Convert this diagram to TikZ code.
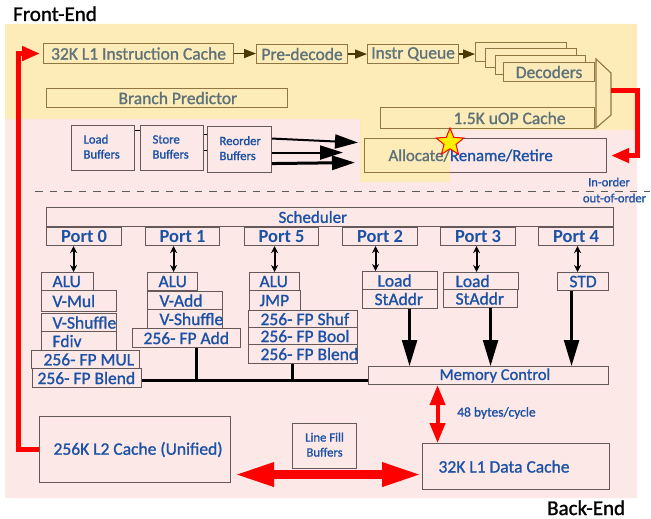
\documentclass[tikz,border=0pt]{standalone}
\usepackage{fontspec}
\setmainfont{Carlito}
\newfontfamily\hv{Carlito}[FakeBold=1.2]
\usetikzlibrary{arrows.meta,shapes.geometric,calc}
\definecolor{txtblue}{RGB}{28,82,165}
\definecolor{bordc}{RGB}{100,88,88}
\definecolor{pinkbg}{RGB}{253,232,232}
\definecolor{ovl}{RGB}{248,188,20}
\definecolor{redc}{RGB}{255,0,0}
\definecolor{dashc}{RGB}{90,90,90}
\definecolor{stary}{RGB}{255,240,0}
\newcommand\fsz[1]{\fontsize{#1}{#1}\selectfont}
\newcommand\ubx[7]{%
  \pgfmathsetmacro\ubxW{#5-#3}%
  \pgfmathsetmacro\ubxH{#6-#4}%
  \node[#1,minimum width=\ubxW pt,minimum height=\ubxH pt,anchor=north west] (#2) at (#3,#4) {#7};}
\newcommand\lft[2]{\makebox[\ubxW pt][l]{\hspace{#1pt}#2}}
\begin{document}
\begin{tikzpicture}[x=1pt,y=-1pt,
  box/.style={draw=bordc,line width=1.1pt,inner sep=0pt,text=txtblue,font={\hv\fsz{17.5}}},
  portbox/.style={box,font={\fsz{18.5}\bfseries}},
  smallbox/.style={box,font={\hv\fontsize{12.7}{15}\selectfont}},
  lbl/.style={inner sep=0pt,text=txtblue},
  fearr/.style={line width=1.5pt,draw=black,-{Triangle[length=12pt,width=9pt]}},
  dbl/.style={line width=2pt,draw=black,{Stealth[length=7pt,width=7pt]}-{Stealth[length=7pt,width=7pt]}},
  memarr/.style={line width=2.5pt,draw=black,-{Triangle[length=26pt,width=15pt]}},
  roarr/.style={line width=2pt,draw=black,-{Triangle[length=23pt,width=14pt]}},
  bus/.style={line width=2.5pt,draw=black},
  tick/.style={line width=1pt,draw=black},
  redarr/.style={line width=5pt,draw=redc,-{Triangle[length=18pt,width=14pt]}},
  medred/.style={line width=4pt,draw=redc,{Triangle[length=20pt,width=15pt]}-{Triangle[length=20pt,width=15pt]}},
  bigred/.style={line width=9pt,draw=redc,{Triangle[length=40pt,width=22pt]}-{Triangle[length=40pt,width=22pt]}}
]
\useasboundingbox (0,0) rectangle (651,519);
% backgrounds
\fill[pinkbg] (5,119) -- (360,119) -- (360,182) -- (450,182) -- (450,130) -- (637,130) -- (637,498) -- (5,498) -- cycle;

% titles
\node[anchor=base west,inner sep=0pt,font={\hv\fsz{21}},text=black] (fe) at (13,21) {Front-End};
\node[anchor=base west,inner sep=0pt,font={\hv\fsz{21}},text=black] (be) at (547,515) {Back-End};

% front end
\ubx{box}{l1i}{43}{43}{233}{63}{32K L1 Instruction Cache}
\ubx{box}{pdec}{256}{44}{347}{63}{Pre-decode}
\ubx{box}{iq}{367}{44}{458}{63}{Instr Queue}
\ubx{box,fill=white}{dec1}{475}{42}{566}{61}{}
\ubx{box,fill=white}{dec2}{485}{48}{576}{67}{}
\ubx{box,fill=white}{dec3}{495}{55}{585}{74}{}
\ubx{box,fill=white}{dec4}{503}{62}{594}{81}{Decoders}
\ubx{box}{bp}{46}{88}{287}{107}{\lft{72}{Branch Predictor}}
\ubx{box}{uop}{380}{107}{594}{128}{\lft{73}{1.5K uOP Cache}}
\draw[draw=bordc,line width=1.1pt,fill=white] (596,59) -- (611,73) -- (611,115) -- (596,128) -- cycle;
\coordinate (muxout) at (611,91);
\draw[fearr] (l1i.east) -- (l1i.east -| pdec.west);
\draw[fearr] (pdec.east) -- (pdec.east -| iq.west);
\draw[fearr] (iq.east) -- (iq.east -| dec1.west);

% buffers and allocate
\ubx{smallbox}{load}{71}{125}{134}{170}{\lft{12}{\begin{tabular}{@{}l@{}}Load\\Buffers\end{tabular}}}
\ubx{smallbox}{store}{140}{125}{203}{170}{\lft{12}{\begin{tabular}{@{}l@{}}Store\\Buffers\end{tabular}}}
\ubx{smallbox}{reorder}{207}{126}{271}{172}{\lft{12}{\begin{tabular}{@{}l@{}}Reorder\\Buffers\end{tabular}}}
\ubx{box,font={\hv\fsz{16.8}}}{alloc}{364}{138}{606}{172}{\lft{24}{Allocate/Rename/Retire}}
\draw[tick] ($(load.east)+(0,-17.5)$) -- ($(store.west)+(0,-17.5)$);
\draw[tick] ($(store.east)+(0,-13.5)$) -- ($(reorder.west)+(0,-15)$);
\draw[tick] ($(store.east)+(0,2.5)$) -- ($(reorder.west)+(0,1)$);
\draw[roarr] ($(reorder.east)+(0,-11)$) -- ($(alloc.west)+(-6,-13)$);
\draw[roarr] ($(reorder.east)+(0,3)$) -- ($(alloc.west)+(-21,-3)$);
\draw[roarr,line width=3pt] ($(reorder.east)+(0,14)$) -- ($(alloc.west)+(-9,7)$);

% in-order separator
\draw[draw=dashc,line width=1pt,dash pattern=on 7.5pt off 7pt] (35,191) -- (650,191);
\node[lbl,font={\hv\fsz{12.6}}] (inord) at (609,182) {In-order};
\node[lbl,font={\hv\fsz{12.6}}] (outord) at (614.5,198) {out-of-order};

% scheduler and ports
\ubx{box,font={\hv\fsz{17}}}{sched}{46}{207}{613}{226}{\lft{232}{Scheduler}}
\ubx{portbox}{p0}{46}{227}{121}{245}{Port 0}
\ubx{portbox}{p1}{145}{227}{219}{245}{Port 1}
\ubx{portbox}{p5}{244}{227}{318}{245}{Port 5}
\ubx{portbox}{p2}{342}{227}{417}{245}{Port 2}
\ubx{portbox}{p3}{440}{227}{515}{245}{Port 3}
\ubx{portbox}{p4}{538}{227}{613}{245}{Port 4}

% port 0
\ubx{box}{p0alu}{41}{272}{93}{290}{\lft{11}{ALU}}
\ubx{box}{p0vmul}{41}{290}{116}{311}{\lft{11}{V-Mul}}
\ubx{box}{p0vsh}{41}{313}{116}{331}{\lft{11}{V-Shuffle}}
\ubx{box}{p0fdiv}{41}{331}{116}{350}{\lft{11}{Fdiv}}
\ubx{box}{p0fpmul}{31}{350}{139}{368}{\lft{12}{256- FP MUL}}
\ubx{box}{p0blend}{32}{368}{141}{387}{\lft{5}{256- FP Blend}}
% port 1
\ubx{box}{p1alu}{147}{272}{197}{290}{\lft{11}{ALU}}
\ubx{box}{p1vadd}{147}{291}{222}{309}{\lft{12}{V-Add}}
\ubx{box}{p1vsh}{147}{309}{222}{328}{\lft{12}{V-Shuffle}}
\ubx{box}{p1fpadd}{132}{328}{240}{347}{\lft{11}{256- FP Add}}
% port 5
\ubx{box}{p5alu}{249}{272}{299}{290}{\lft{10}{ALU}}
\ubx{box}{p5jmp}{249}{290}{300}{310}{\lft{10}{JMP}}
\ubx{box}{p5shuf}{248}{310}{357}{327}{\lft{12}{256- FP Shuf}}
\ubx{box}{p5bool}{248}{327}{357}{344}{\lft{12}{256- FP Bool}}
\ubx{box}{p5blend}{248}{344}{357}{363}{\lft{12}{256- FP Blend}}
% port 2,3,4
\ubx{box}{p2load}{362}{271}{437}{289}{\lft{15}{Load}}
\ubx{box}{p2st}{362}{289}{437}{308}{\lft{12}{StAddr}}
\ubx{box}{p3load}{443}{272}{518}{289}{\lft{12}{Load}}
\ubx{box}{p3st}{443}{289}{517}{307}{\lft{12}{StAddr}}
\ubx{box}{p4std}{557}{272}{608}{290}{STD}

% port arrows
\draw[dbl] ($(p0.south)+(-10.5,0)$) -- ($(p0.south |- p0alu.north)+(-10.5,0)$);
\draw[dbl] ($(p1.south)+(-9,0)$) -- ($(p1.south |- p1alu.north)+(-9,0)$);
\draw[dbl] ($(p5.south)+(-7,0)$) -- ($(p5.south |- p5alu.north)+(-7,0)$);
\draw[dbl] ($(p2.south)+(-4.5,0)$) -- ($(p2.south |- p2load.north)+(-4.5,0)$);
\draw[dbl] ($(p3.south)+(-1.5,0)$) -- ($(p3.south |- p3load.north)+(-1.5,0)$);
\draw[dbl] ($(p4.south)+(1.5,0)$) -- ($(p4.south |- p4std.north)+(1.5,0)$);

% memory control
\ubx{box,font={\hv\fsz{16.5}}}{mem}{368}{366}{608}{384}{\lft{71}{Memory Control}}
\draw[memarr] ($(p2st.south)+(9.5,0)$) -- ($(p2st.south |- mem.north)+(9.5,0)$);
\draw[memarr] ($(p3st.south)+(10,0)$) -- ($(p3st.south |- mem.north)+(10,0)$);
\draw[memarr] ($(p4std.south)+(-11.5,0)$) -- ($(p4std.south |- mem.north)+(-11.5,0)$);
\coordinate (busL) at ($(p0blend.east)+(0,2.5)$);
\draw[bus] (busL) -- (busL -| mem.west);
\draw[bus] ($(p1fpadd.south)+(10,0)$) -- ($(p1fpadd.south |- busL)+(10,0)$);
\draw[bus] ($(p5blend.south)+(-10.5,0)$) -- ($(p5blend.south |- busL)+(-10.5,0)$);

% caches
\ubx{box}{l2}{39}{416}{230}{482}{\lft{14}{256K L2 Cache (Unified)}}
\ubx{smallbox}{lfb}{292}{423}{356}{468}{\begin{tabular}{@{}c@{}}Line Fill\\Buffers\end{tabular}}
\ubx{box}{l1d}{422}{443}{609}{489}{\lft{16}{32K L1 Data Cache}}
\node[lbl,anchor=west,font={\hv\fsz{13.5}}] (bw) at (457,413) {48 bytes/cycle};

% yellow overlay of the front end
\fill[ovl,fill opacity=0.3] (5,24) -- (637,24) -- (637,130) -- (450,130) -- (450,182) -- (360,182) -- (360,119) -- (5,119) -- cycle;

% red connectors
\draw[redarr] (l2.west) -- ++(-20.5,0) |- ($(l1i.west)+(-3,0)$);
\draw[redarr] (muxout) -- ++(26,0) |- ($(alloc.east)+(4,0)$);
\draw[medred] ($(mem.south)+(-51,0)$) -- ($(mem.south |- l1d.north)+(-51,0)$);
\draw[bigred] ($(l2.east)+(3,25)$) -- ($(l1d.west)+(0,8)$);

% star
\node[star,star points=5,star point ratio=2.3,minimum size=29pt,inner sep=0pt,fill=stary,draw=redc,line width=1pt] (hl) at (450,142.5) {};
\end{tikzpicture}
\end{document}
